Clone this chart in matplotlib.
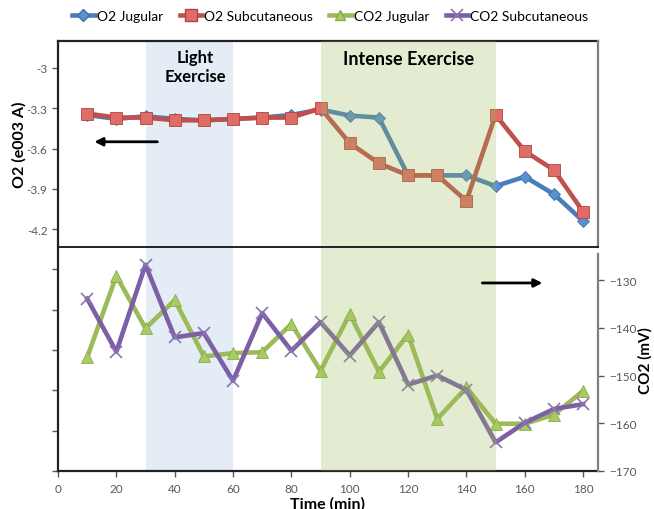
import matplotlib
matplotlib.use("Agg")
import matplotlib.pyplot as plt
from matplotlib.lines import Line2D

plt.rcParams['font.family'] = ['Lato', 'DejaVu Sans']

time_min = [10, 20, 30, 40, 50, 60, 70, 80, 90, 100, 110, 120, 130, 140, 150, 160, 170, 180]
o2_jugular = [-3.35, -3.38, -3.36, -3.38, -3.39, -3.38, -3.37, -3.35, -3.31, -3.355, -3.37,
              -3.80, -3.80, -3.80, -3.88, -3.81, -3.94, -4.14]
o2_subcut = [-3.34, -3.37, -3.37, -3.39, -3.39, -3.38, -3.37, -3.37, -3.30, -3.56, -3.71,
             -3.80, -3.80, -3.99, -3.35, -3.62, -3.76, -4.07]
co2_jugular = [-146.2, -129.1, -140.1, -134.2, -146.0, -145.3, -145.1, -139.2, -149.0, -137.1,
               -149.2, -141.4, -159.1, -152.5, -160.1, -160.1, -158.2, -153.2]
co2_subcut = [-133.9, -145.0, -126.8, -142.0, -141.1, -151.1, -136.9, -144.8, -138.8, -145.8,
              -138.8, -151.9, -150.0, -153.0, -164.0, -159.9, -157.0, -156.0]

x_ticks = [0, 20, 40, 60, 80, 100, 120, 140, 160, 180]
o2_ticks = [-3.0, -3.3, -3.6, -3.9, -4.2, -4.5, -4.8, -5.1, -5.4, -5.7, -6.0]
o2_labels = ['-3', '-3.3', '-3.6', '-3.9', '-4.2', '', '', '', '', '', '']
co2_ticks = [-170, -160, -150, -140, -130]
light_span = (30, 60)
intense_span = (90, 150)

C_BLUE = '#4a7ebb'
C_RED = '#c0504d'
C_GREEN = '#9bbb59'
C_PURPLE = '#7d5fa6'
TICK_C = '#595959'

fig = plt.figure(figsize=(6.54, 5.10), dpi=100)
ax = fig.add_axes([58/654, 38/510, 540/654, 430/510])
ax2 = ax.twinx()

ax.set_xlim(0, 185.1)
ax.set_ylim(-6.0, -2.80)
ax2.set_ylim(-170, -79.9)

# light exercise span (behind)
ax.axvspan(*light_span, color='#e4ecf6', zorder=0, lw=0)

lw = 3.3
ax.plot(time_min, o2_jugular, color=C_BLUE, lw=lw, marker='D', ms=6,
        mfc='#5b8fd0', mec='#3f6fa8', mew=0.6, zorder=3, label='O2 Jugular')
ax.plot(time_min, o2_subcut, color=C_RED, lw=lw, marker='s', ms=9,
        mfc='#e06c68', mec='#b04440', mew=0.6, zorder=4, label='O2 Subcutaneous')
ax2.plot(time_min, co2_jugular, color=C_GREEN, lw=lw, marker='^', ms=8,
         mfc='#a9cc62', mec='#8aab4c', mew=0.6, zorder=3, label='CO2 Jugular')
ax2.plot(time_min, co2_subcut, color=C_PURPLE, lw=lw, marker='x', ms=9,
         mec='#8a75b0', mew=1.2, zorder=4, label='CO2 Subcutaneous')

# intense exercise span (overlay)
ax2.axvspan(*intense_span, color=C_GREEN, alpha=0.28, zorder=5, lw=0)

# axes / spines
for s in ['top', 'left', 'bottom']:
    ax.spines[s].set_color('#222222')
    ax.spines[s].set_linewidth(1.6)
ax.spines['right'].set_visible(False)
ax2.spines['top'].set_visible(False)
ax2.spines['left'].set_visible(False)
ax2.spines['bottom'].set_visible(False)
ax2.spines['right'].set_color('#7f7f7f')
ax2.spines['right'].set_linewidth(1.6)
ax2.spines['right'].set_bounds(-170, -124.5)

# right border of top panel
ax2.plot([1, 1], [0.521, 1], transform=ax.transAxes, color='#7f7f7f', lw=1.6,
         clip_on=False, zorder=6)
# separator line
ax2.plot([0, 1], [0.521, 0.521], transform=ax.transAxes, color='#222222', lw=1.4,
         clip_on=False, zorder=6)

ax.set_xticks(x_ticks)
ax.set_yticks(o2_ticks)
ax.set_yticklabels(o2_labels)
ax2.set_yticks(co2_ticks)
ax.tick_params(axis='both', colors=TICK_C, labelsize=8.5, length=4, width=1)
ax.tick_params(axis='x', pad=5)
ax2.tick_params(axis='y', colors=TICK_C, labelsize=8.5, length=4, width=1, pad=4)

ax.set_xlabel('Time (min)', fontsize=11.5, fontweight='bold', labelpad=1)
ax.set_ylabel('O2 (e003 A)', fontsize=11.5, fontweight='bold')
ax.yaxis.set_label_coords(-0.058, 0.76)
ax2.set_ylabel('CO2 (mV)', fontsize=11, fontweight='bold')
ax2.yaxis.set_label_coords(1.075, 0.26)

# annotations
ax2.text(47, -2.99, 'Light\nExercise', ha='center', va='center', fontsize=12,
         fontweight='bold', linespacing=1.3, zorder=7,
         transform=ax.transData)
ax2.text(120, -2.93, 'Intense Exercise', ha='center', va='center', fontsize=13,
         fontweight='bold', zorder=7, transform=ax.transData)
ax.annotate('', xy=(11.5, -3.55), xytext=(35, -3.55),
            arrowprops=dict(arrowstyle='-|>', color='black', lw=2, mutation_scale=12))
ax2.annotate('', xy=(167, -130.6), xytext=(144.5, -130.6),
             arrowprops=dict(arrowstyle='-|>', color='black', lw=2, mutation_scale=12),
             zorder=7)

handles = [
    Line2D([], [], color=C_BLUE, lw=lw, marker='D', ms=6, mfc='#5b8fd0', mec='#3f6fa8'),
    Line2D([], [], color=C_RED, lw=lw, marker='s', ms=8, mfc='#e06c68', mec='#b04440'),
    Line2D([], [], color=C_GREEN, lw=lw, marker='^', ms=7, mfc='#a9cc62', mec='#8aab4c'),
    Line2D([], [], color=C_PURPLE, lw=lw, marker='x', ms=8, mec='#8a75b0', mew=1.2),
]
fig.legend(handles, ['O2 Jugular', 'O2 Subcutaneous', 'CO2 Jugular', 'CO2 Subcutaneous'],
           loc='center', bbox_to_anchor=(0.505, 0.966), ncol=4, frameon=False,
           fontsize=10, handlelength=1.6, handletextpad=0.15, columnspacing=1.2)

fig.savefig('out.png', dpi=100)
